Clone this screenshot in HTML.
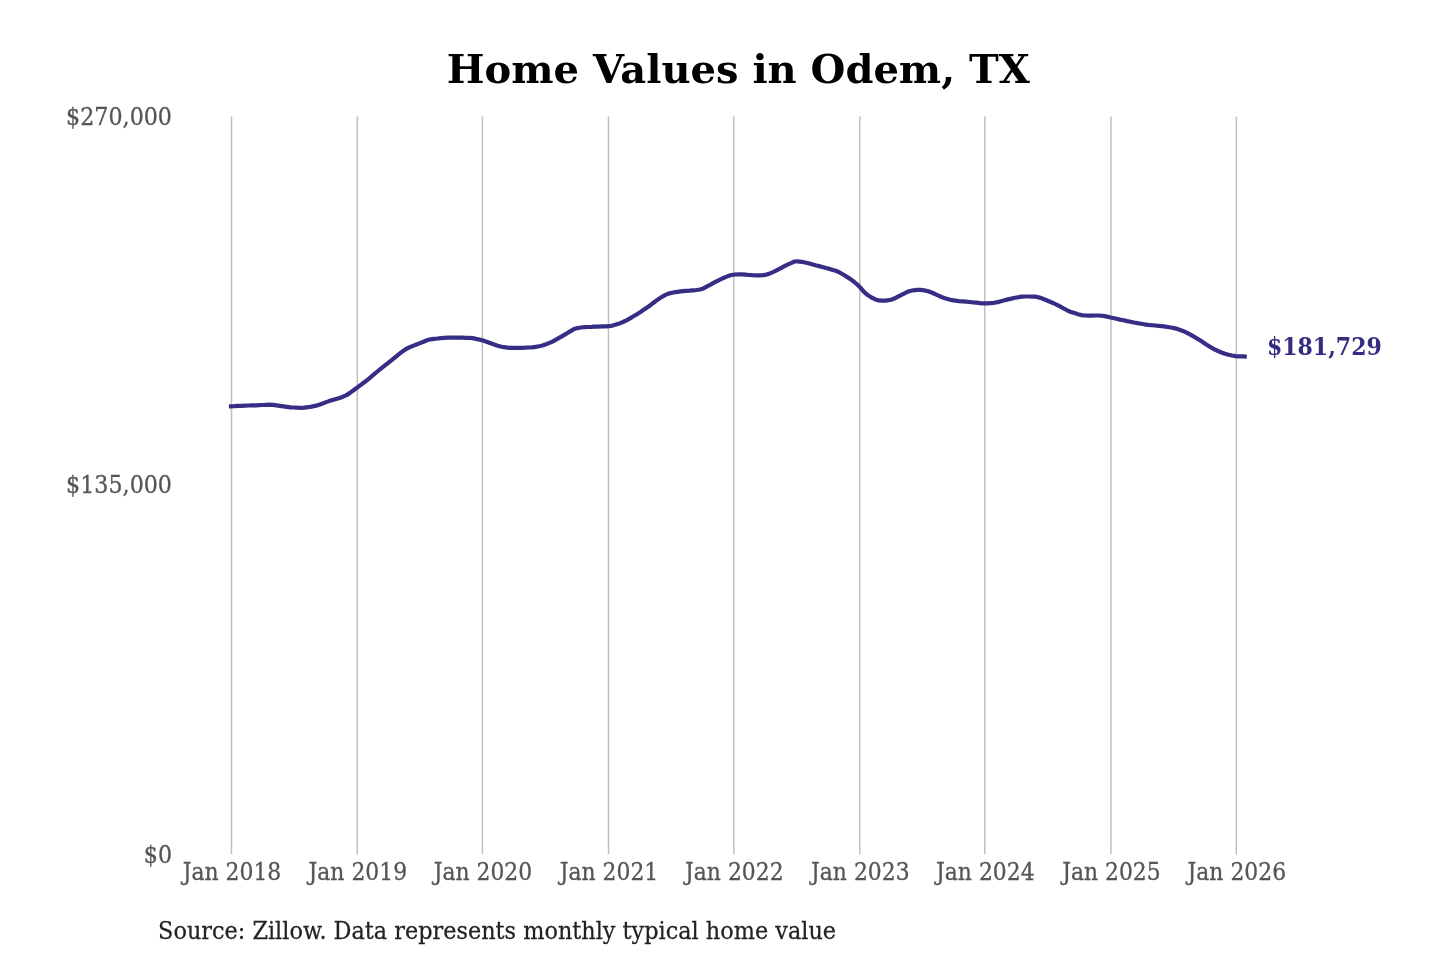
<!DOCTYPE html>
<html><head><meta charset="utf-8"><title>Home Values in Odem, TX</title>
<style>
html,body{margin:0;padding:0;background:#fff;}
svg{display:block;}
text{font-family:"DejaVu Serif","Liberation Serif",serif;}
.t{font-weight:bold;font-size:40px;fill:#000;}
.y{font-size:24px;fill:#555;stroke:#555;stroke-width:0.3px;text-anchor:end;}
.x{font-size:24px;fill:#555;stroke:#555;stroke-width:0.3px;text-anchor:middle;}
.s{font-size:24px;fill:#222;stroke:#222;stroke-width:0.25px;}
.e{font-size:24.2px;font-weight:bold;fill:#342c80;}
</style></head><body>
<svg width="1440" height="960" viewBox="0 0 1440 960">
<rect width="1440" height="960" fill="#fff"/>
<g stroke="#bfbfbf" stroke-width="1.5">
<line x1="231.5" y1="116.5" x2="231.5" y2="854.2"/>
<line x1="357.3" y1="116.5" x2="357.3" y2="854.2"/>
<line x1="482.4" y1="116.5" x2="482.4" y2="854.2"/>
<line x1="608.5" y1="116.5" x2="608.5" y2="854.2"/>
<line x1="733.8" y1="116.5" x2="733.8" y2="854.2"/>
<line x1="859.8" y1="116.5" x2="859.8" y2="854.2"/>
<line x1="984.8" y1="116.5" x2="984.8" y2="854.2"/>
<line x1="1110.9" y1="116.5" x2="1110.9" y2="854.2"/>
<line x1="1236.3" y1="116.5" x2="1236.3" y2="854.2"/>
</g>
<text class="t" x="738.3" y="83" text-anchor="middle">Home Values in Odem, TX</text>
<text class="y" transform="translate(172.0,124.8) scale(0.925,1)">$270,000</text>
<text class="y" transform="translate(172.0,492.7) scale(0.925,1)">$135,000</text>
<text class="y" transform="translate(172.0,863.3) scale(0.925,1)">$0</text>
<text class="x" transform="translate(232.0,880.1) scale(0.912,1)">Jan 2018</text>
<text class="x" transform="translate(357.8,880.1) scale(0.912,1)">Jan 2019</text>
<text class="x" transform="translate(482.9,880.1) scale(0.912,1)">Jan 2020</text>
<text class="x" transform="translate(609.0,880.1) scale(0.912,1)">Jan 2021</text>
<text class="x" transform="translate(734.3,880.1) scale(0.912,1)">Jan 2022</text>
<text class="x" transform="translate(860.3,880.1) scale(0.912,1)">Jan 2023</text>
<text class="x" transform="translate(985.3,880.1) scale(0.912,1)">Jan 2024</text>
<text class="x" transform="translate(1111.4,880.1) scale(0.912,1)">Jan 2025</text>
<text class="x" transform="translate(1236.8,880.1) scale(0.912,1)">Jan 2026</text>
<path d="M231.0,406.4 L234.5,406.2 L238.0,405.9 L241.5,405.8 L245.0,405.6 L248.5,405.5 L252.0,405.4 L255.5,405.3 L259.0,405.2 L262.5,405.0 L266.0,404.8 L269.5,404.7 L273.0,404.9 L276.5,405.3 L280.0,405.8 L283.5,406.3 L287.0,406.8 L290.5,407.3 L294.0,407.5 L297.5,407.7 L301.0,407.8 L304.5,407.6 L308.0,407.2 L311.5,406.6 L315.0,405.9 L318.5,405.0 L322.0,403.8 L325.5,402.4 L329.0,401.1 L332.5,399.9 L336.0,398.9 L339.5,397.9 L343.0,396.7 L346.5,395.1 L350.0,392.9 L353.5,390.3 L357.0,387.7 L360.5,385.1 L364.0,382.5 L367.5,379.8 L371.0,376.9 L374.5,373.9 L378.0,371.0 L381.5,368.2 L385.0,365.4 L388.5,362.6 L392.0,359.8 L395.5,357.0 L399.0,354.2 L402.5,351.4 L406.0,349.0 L409.5,347.3 L413.0,345.9 L416.5,344.5 L420.0,343.1 L423.5,341.7 L427.0,340.2 L430.5,339.3 L434.0,338.8 L437.5,338.5 L441.0,338.1 L444.5,337.8 L448.0,337.6 L451.5,337.6 L455.0,337.6 L458.5,337.7 L462.0,337.7 L465.5,337.8 L469.0,337.8 L472.5,338.1 L476.0,338.9 L479.5,339.6 L483.0,340.5 L486.5,341.7 L490.0,343.0 L493.5,344.3 L497.0,345.5 L500.5,346.5 L504.0,347.2 L507.5,347.6 L511.0,347.9 L514.5,347.9 L518.0,347.9 L521.5,347.8 L525.0,347.7 L528.5,347.5 L532.0,347.3 L535.5,346.9 L539.0,346.3 L542.5,345.5 L546.0,344.3 L549.5,342.9 L553.0,341.3 L556.5,339.4 L560.0,337.4 L563.5,335.4 L567.0,333.2 L570.5,331.1 L574.0,329.1 L577.5,328.1 L581.0,327.5 L584.5,327.2 L588.0,327.0 L591.5,326.9 L595.0,326.7 L598.5,326.6 L602.0,326.4 L605.5,326.3 L609.0,326.2 L612.5,325.6 L616.0,324.6 L619.5,323.4 L623.0,322.0 L626.5,320.3 L630.0,318.4 L633.5,316.3 L637.0,314.2 L640.5,312.0 L644.0,309.6 L647.5,307.2 L651.0,304.7 L654.5,302.0 L658.0,299.4 L661.5,297.1 L665.0,295.1 L668.5,293.6 L672.0,292.7 L675.5,292.1 L679.0,291.6 L682.5,291.2 L686.0,290.8 L689.5,290.6 L693.0,290.3 L696.5,290.0 L700.0,289.5 L703.5,288.4 L707.0,286.4 L710.5,284.6 L714.0,282.7 L717.5,280.8 L721.0,279.1 L724.5,277.5 L728.0,276.1 L731.5,275.0 L735.0,274.5 L738.5,274.3 L742.0,274.4 L745.5,274.7 L749.0,275.0 L752.5,275.2 L756.0,275.3 L759.5,275.3 L763.0,275.1 L766.5,274.6 L770.0,273.4 L773.5,271.9 L777.0,270.2 L780.5,268.3 L784.0,266.4 L787.5,264.6 L791.0,263.1 L794.5,261.5 L798.0,261.4 L801.5,261.8 L805.0,262.5 L808.5,263.2 L812.0,264.2 L815.5,265.2 L819.0,266.1 L822.5,267.0 L826.0,268.0 L829.5,268.9 L833.0,269.9 L836.5,271.0 L840.0,272.7 L843.5,274.8 L847.0,276.9 L850.5,279.1 L854.0,281.7 L857.5,284.8 L861.0,288.3 L864.5,292.4 L868.0,295.3 L871.5,297.5 L875.0,299.2 L878.5,300.4 L882.0,300.6 L885.5,300.6 L889.0,300.2 L892.5,299.2 L896.0,297.7 L899.5,295.9 L903.0,294.1 L906.5,292.3 L910.0,291.0 L913.5,290.3 L917.0,289.9 L920.5,289.8 L924.0,290.3 L927.5,291.1 L931.0,292.3 L934.5,293.8 L938.0,295.4 L941.5,297.0 L945.0,298.2 L948.5,299.3 L952.0,300.2 L955.5,300.7 L959.0,301.1 L962.5,301.4 L966.0,301.7 L969.5,302.0 L973.0,302.4 L976.5,302.7 L980.0,303.1 L983.5,303.4 L987.0,303.4 L990.5,303.1 L994.0,302.8 L997.5,302.1 L1001.0,301.2 L1004.5,300.3 L1008.0,299.4 L1011.5,298.6 L1015.0,297.8 L1018.5,297.2 L1022.0,296.7 L1025.5,296.5 L1029.0,296.5 L1032.5,296.6 L1036.0,296.7 L1039.5,297.6 L1043.0,298.8 L1046.5,300.2 L1050.0,301.7 L1053.5,303.2 L1057.0,304.8 L1060.5,306.7 L1064.0,308.7 L1067.5,310.5 L1071.0,312.1 L1074.5,313.1 L1078.0,314.3 L1081.5,315.1 L1085.0,315.5 L1088.5,315.7 L1092.0,315.6 L1095.5,315.5 L1099.0,315.5 L1102.5,315.8 L1106.0,316.4 L1109.5,317.3 L1113.0,318.0 L1116.5,318.8 L1120.0,319.6 L1123.5,320.3 L1127.0,321.1 L1130.5,321.8 L1134.0,322.5 L1137.5,323.1 L1141.0,323.7 L1144.5,324.3 L1148.0,324.8 L1151.5,325.2 L1155.0,325.5 L1158.5,325.8 L1162.0,326.2 L1165.5,326.6 L1169.0,327.2 L1172.5,327.8 L1176.0,328.6 L1179.5,329.7 L1183.0,330.9 L1186.5,332.6 L1190.0,334.4 L1193.5,336.4 L1197.0,338.5 L1200.5,340.6 L1204.0,342.9 L1207.5,345.2 L1211.0,347.4 L1214.5,349.3 L1218.0,351.0 L1221.5,352.5 L1225.0,353.8 L1228.5,354.8 L1232.0,355.5 L1235.5,356.1 L1239.0,356.3 L1242.5,356.4 L1244.7,356.5" fill="none" stroke="#362d85" stroke-width="4.2" stroke-linecap="square" stroke-linejoin="round"/>
<text class="e" transform="translate(1266.9,354.8) scale(0.91,1)">$181,729</text>
<text class="s" transform="translate(158.1,939) scale(0.933,1)">Source: Zillow. Data represents monthly typical home value</text>
</svg>
</body></html>
